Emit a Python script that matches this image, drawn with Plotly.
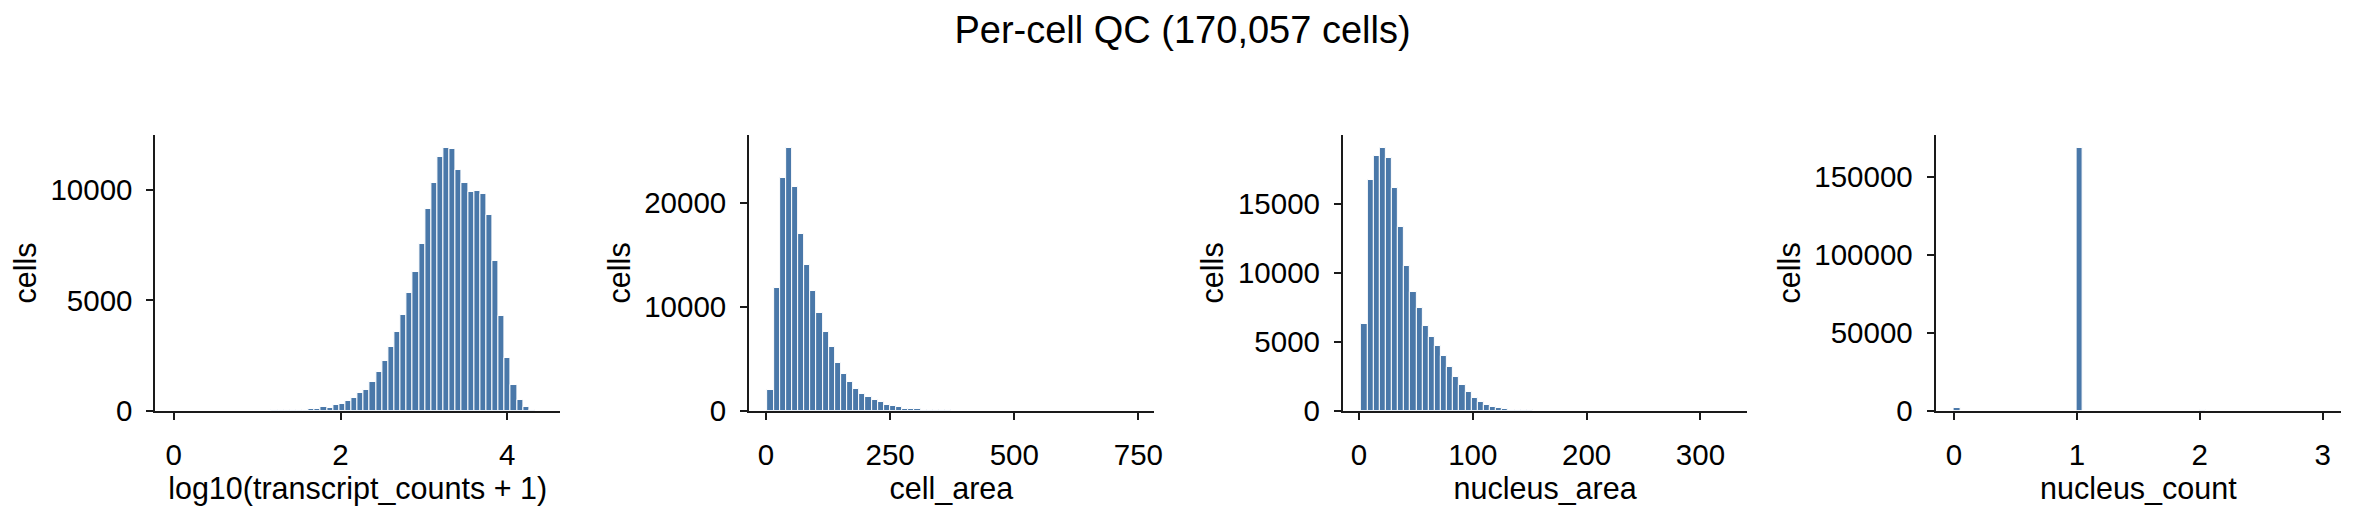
import numpy as np
import plotly.graph_objects as go

TITLE = "Per-cell QC (170,057 cells)"
X_LABELS = ["log10(transcript_counts + 1)", "cell_area", "nucleus_area", "nucleus_count"]
Y_LABEL = "cells"
N_BINS = 60

# log10(transcript_counts + 1): histogram range and bin counts
tc_range = (0.0, 4.41)
tc_counts = [2, 0, 0, 0, 1, 0, 1, 1, 2, 2,
             3, 3, 4, 5, 6, 8, 10, 12, 15, 20,
             29, 44, 80, 88, 185, 117, 270, 315, 420, 587,
             800, 925, 1322, 1762, 2247, 2863, 3568, 4317, 5330, 6290,
             7533, 9119, 10308, 11498, 11894, 11860, 10925, 10308, 9900, 9960,
             9800, 8855, 6784, 4273, 2408, 1160, 485, 176, 44, 5]

# cell_area
ca_range = (3.1, 743.6)
ca_counts = [1964, 11787, 22389, 25257, 21547, 17025, 14032, 11506, 9386, 7608,
             6080, 4584, 3555, 2790, 2130, 1570, 1279, 998, 811, 530,
             405, 312, 190, 150, 120, 85, 60, 40, 28, 20,
             14, 10, 8, 6, 5, 4, 3, 2, 2, 2,
             1, 1, 1, 0, 0, 0, 0, 0, 0, 0,
             0, 0, 0, 0, 0, 0, 0, 0, 0, 1]

# nucleus_area
na_range = (2.05, 325.0)
na_counts = [6278, 16718, 18481, 19045, 18340, 16177, 13332, 10510, 8606, 7477,
             6137, 5361, 4726, 3950, 3174, 2469, 1858, 1330, 930, 620,
             420, 270, 180, 110, 70, 45, 30, 20, 13, 9,
             6, 4, 3, 2, 2, 1, 1, 1, 0, 0,
             0, 0, 0, 0, 0, 0, 0, 0, 0, 0,
             0, 0, 0, 0, 0, 0, 0, 0, 0, 1]

# nucleus_count: discrete values and number of cells
nc_range = (0.0, 3.0)
nc_values = [0, 1, 2, 3]
nc_cells = [1500, 168200, 330, 27]

X_TICKS = [[0, 2, 4], [0, 250, 500, 750], [0, 100, 200, 300], [0, 1, 2, 3]]
Y_TICKS = [[0, 5000, 10000], [0, 10000, 20000], [0, 5000, 10000, 15000],
           [0, 50000, 100000, 150000]]

nc_counts, _ = np.histogram(nc_values, bins=N_BINS, range=nc_range, weights=nc_cells)

panels = [
    (tc_range, tc_counts),
    (ca_range, ca_counts),
    (na_range, na_counts),
    (nc_range, list(nc_counts)),
]

W, H = 2365, 522
BAR_COLOR = "#4a78a9"
FONT = "Liberation Sans, Arial, sans-serif"
AXCOL = "#1a1a1a"

x_px = [(156, 562), (752, 1158), (1348, 1754), (1943, 2350)]
y_px = (139.3, 423.7)
ydom = [1 - y_px[1] / H, 1 - y_px[0] / H]

fig = go.Figure()
layout = {}
for i, (rng, counts) in enumerate(panels):
    edges = np.linspace(rng[0], rng[1], N_BINS + 1)
    widths = np.diff(edges)
    n = i + 1
    xa = "x" if n == 1 else f"x{n}"
    ya = "y" if n == 1 else f"y{n}"
    fig.add_trace(go.Bar(
        x=edges[:-1], y=counts, width=widths, offset=0,
        marker=dict(color=BAR_COLOR, line=dict(color="white", width=1)),
        xaxis=xa, yaxis=ya, showlegend=False,
    ))
    span = rng[1] - rng[0]
    xr = [rng[0] - 0.05 * span, rng[1] + 0.05 * span]
    yr = [0, 1.05 * max(counts)]
    key_x = "xaxis" if n == 1 else f"xaxis{n}"
    key_y = "yaxis" if n == 1 else f"yaxis{n}"
    common = dict(
        showline=True, linecolor=AXCOL, linewidth=2, mirror=False,
        ticks="outside", ticklen=7, tickwidth=1.6, tickcolor=AXCOL,
        showgrid=False, zeroline=False,
        tickfont=dict(family=FONT, size=29.5, color="black"),
        title_font=dict(family=FONT, size=30.5, color="black"),
    )
    layout[key_x] = dict(
        common,
        domain=[x_px[i][0] / W, x_px[i][1] / W],
        anchor=ya, range=xr,
        tickvals=X_TICKS[i], ticktext=[str(v) for v in X_TICKS[i]],
        ticklabelstandoff=10,
        title=dict(text=X_LABELS[i], standoff=8),
    )
    layout[key_y] = dict(
        common,
        domain=ydom,
        anchor=xa, range=yr,
        tickvals=Y_TICKS[i], ticktext=[str(v) for v in Y_TICKS[i]],
        ticklabelstandoff=8,
        title=dict(text=Y_LABEL, standoff=5),
    )

fig.update_layout(
    width=W, height=H,
    margin=dict(l=0, r=0, t=0, b=0),
    paper_bgcolor="white", plot_bgcolor="white",
    bargap=0,
    title=dict(text=TITLE, x=0.5, xanchor="center", y=1 - 29.6 / H, yanchor="middle",
               font=dict(family=FONT, size=38, color="black")),
    **layout,
)

fig.write_html("out.html")
